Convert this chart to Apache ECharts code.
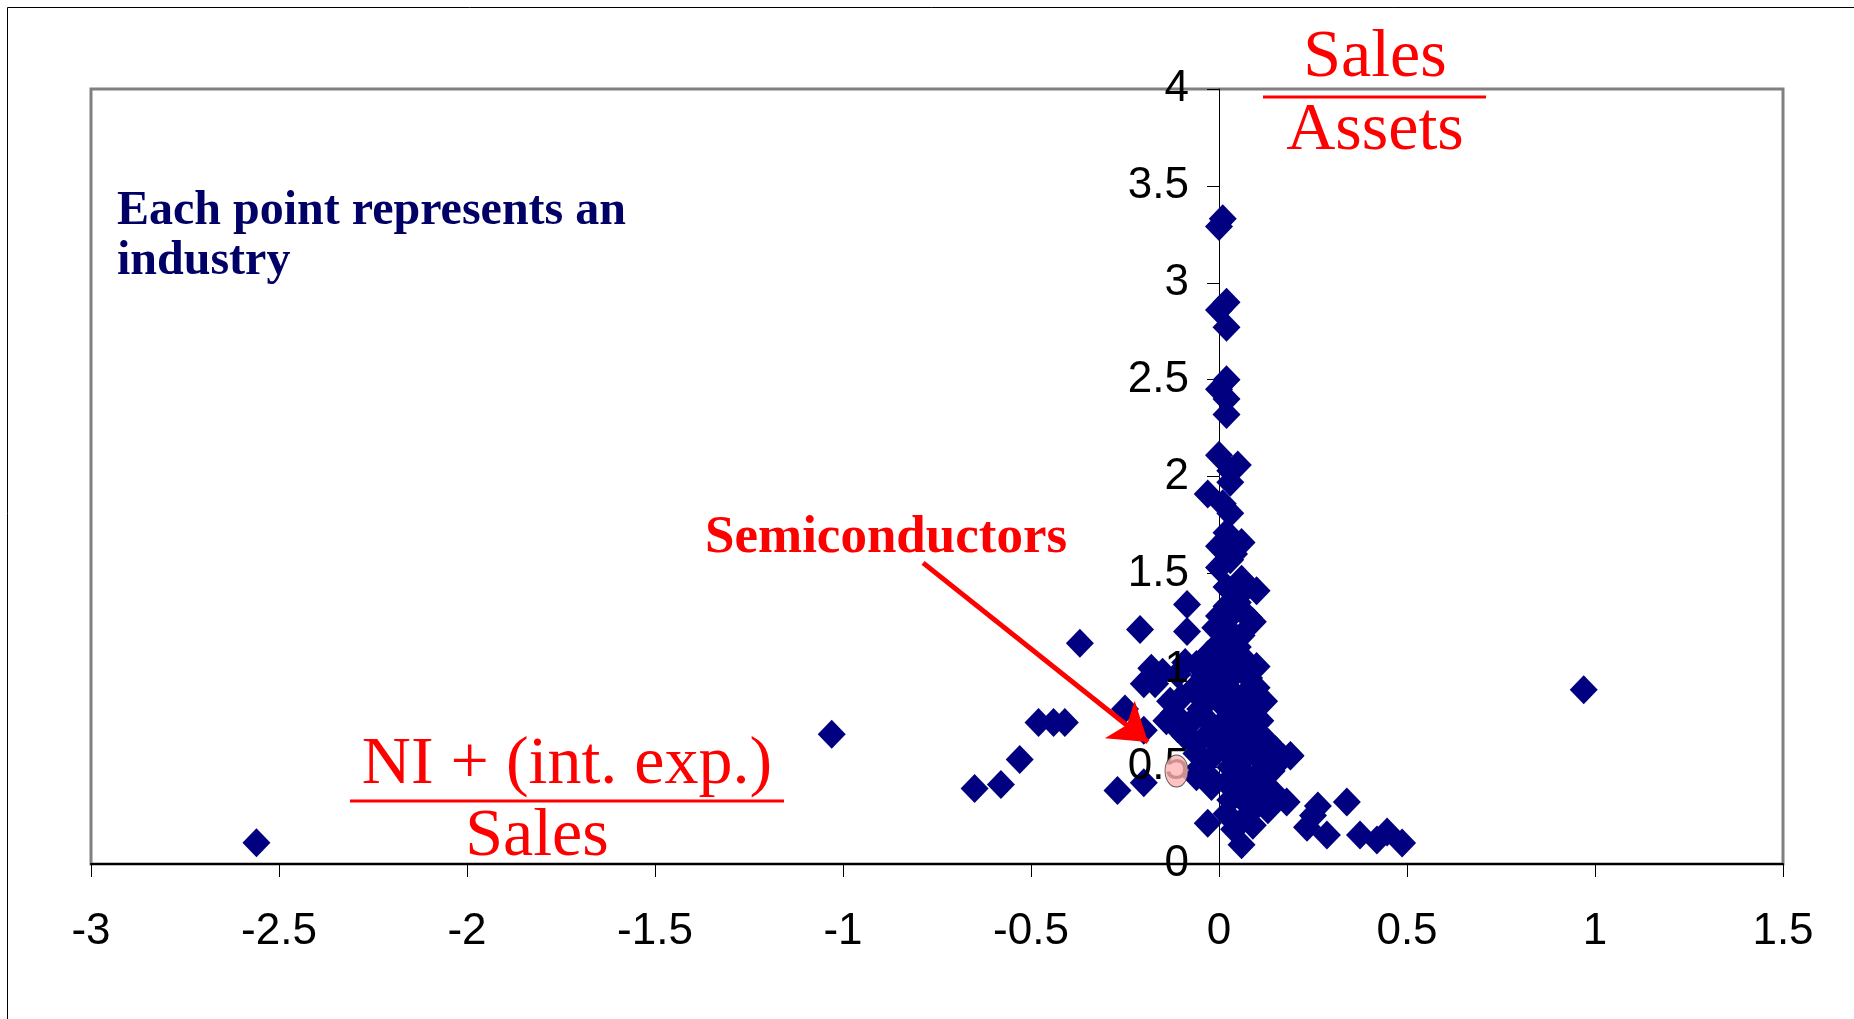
<!DOCTYPE html>
<html>
<head>
<meta charset="utf-8">
<script src="https://cdn.jsdelivr.net/npm/echarts@6/dist/echarts.min.js"></script>
<style>
html,body{margin:0;padding:0;background:#fff;}
#main{width:1854px;height:1019px;}
</style>
</head>
<body>
<div id="main"></div>
<script>
// industries: [ (NI + int. exp.)/Sales , Sales/Assets ]
var upperColumn = [
	[0.01,3.33],[0.00,3.29],[0.02,2.90],[0.00,2.86],[0.02,2.77],[0.02,2.50],[0.00,2.45],[0.02,2.40],
	[0.02,2.32],[0.00,2.11],[0.05,2.06],[0.03,2.03],[-0.03,1.91],[0.03,1.97],[0.01,1.86],[0.03,1.81],
	[0.02,1.71],[0.06,1.66],[0.00,1.64],[0.04,1.60],[0.00,1.53],[0.03,1.57],[0.06,1.47],[0.02,1.43],
	[0.06,1.40],[0.10,1.41],[0.02,1.33],[0.05,1.35],[0.08,1.27],[0.09,1.25]
];
var middleCluster = [
	[0.00,1.28],[0.04,1.30],[-0.01,1.22],[0.03,1.20],[0.06,1.18],[0.00,1.14],[0.05,1.12],[-0.03,1.08],
	[0.02,1.06],[0.07,1.05],[0.10,1.02],[-0.06,1.03],[-0.09,1.04],[0.00,1.00],[0.04,0.98],[0.08,0.96],
	[-0.04,0.97],[-0.11,0.98],[-0.15,0.99],[-0.18,1.01],[-0.20,0.93],[-0.17,0.93]
];
var lowerCluster = [
	[0.00,0.92],[0.03,0.90],[0.07,0.88],[-0.03,0.88],[-0.07,0.90],[0.10,0.91],
	[-0.10,0.86],[-0.13,0.84],[0.05,0.84],[0.01,0.82],[-0.05,0.80],[0.09,0.80],[0.12,0.84],
	[-0.12,0.78],[-0.14,0.74],[0.06,0.77],[0.02,0.75],[-0.02,0.72],[-0.08,0.72],[0.04,0.70],[0.08,0.72],[0.11,0.74],[-0.11,0.70],
	[0.11,0.66],[0.00,0.64],[0.05,0.62],[-0.06,0.62],[-0.09,0.66],[0.09,0.60],[0.13,0.63],[-0.03,0.67],
	[0.13,0.58],[0.02,0.58],[-0.02,0.55],[0.07,0.55],[0.12,0.52],[0.17,0.55],[0.19,0.56],[-0.06,0.57],[0.15,0.59],
	[-0.05,0.50],[-0.03,0.46],[0.03,0.50],[0.06,0.48],[0.10,0.46],[0.14,0.48],[0.08,0.42],[0.12,0.40],[0.02,0.42],[-0.06,0.45],
	[0.05,0.38],[-0.02,0.40],[0.03,0.33],[0.10,0.35],[0.15,0.36],[0.10,0.30],[0.18,0.32],
	[0.08,0.30],[0.13,0.28],[0.02,0.26],[0.06,0.22],[-0.03,0.21],[0.04,0.18],[0.06,0.10],[0.09,0.20],
	[0.07,0.35],[0.11,0.44],[0.04,0.55],[0.08,0.64],[0.05,0.45]
];
var rightTail = [
	[0.19,0.557],[0.263,0.30],[0.25,0.25],[0.34,0.32],[0.234,0.19],[0.287,0.15],[0.375,0.15],
	[0.42,0.124],[0.447,0.165],[0.487,0.108],[0.97,0.90]
];
var leftTail = [
	[-2.56,0.11],[-1.03,0.67],[-0.65,0.39],[-0.58,0.41],[-0.53,0.54],[-0.48,0.73],[-0.44,0.73],[-0.41,0.73],
	[-0.37,1.14],[-0.27,0.38],[-0.20,0.42],[-0.25,0.80],[-0.21,1.21],[-0.085,1.34],[-0.085,1.20],[-0.20,0.69]
];
var semiconductors = [[-0.113,0.48]];
var arrowFrom = [-0.787,1.554];
var arrowTo = [-0.189,0.63];

var industries = upperColumn.concat(middleCluster, lowerCluster, rightTail, leftTail);

var dom = document.getElementById("main");
var myChart = echarts.init(dom);

var serif = "'Liberation Serif','Times New Roman',serif";
var sans = "'Liberation Sans',Arial,sans-serif";

option = {
	animation: false,
	backgroundColor: '#ffffff',
	grid: {
		left: 91,
		top: 89,
		width: 1692,
		height: 775,
		show: true,
		backgroundColor: '#ffffff',
		borderColor: '#808080',
		borderWidth: 3,
		outerBoundsMode: 'none'
	},
	xAxis: {
		type: 'value',
		min: -3,
		max: 1.5,
		interval: 0.5,
		axisLine: { onZero: false, lineStyle: { color: '#000', width: 2 } },
		axisTick: { show: true, inside: false, length: 13, lineStyle: { color: '#000', width: 1 } },
		axisLabel: { fontSize: 44, fontFamily: sans, color: '#000', margin: 46 },
		splitLine: { show: false }
	},
	yAxis: [
		{
			type: 'value',
			position: 'left',
			min: 0,
			max: 4,
			interval: 0.5,
			axisLine: { show: true, onZero: true, lineStyle: { color: '#000', width: 1 } },
			axisTick: { show: true, inside: false, length: 12, lineStyle: { color: '#000', width: 1 } },
			axisLabel: { show: false },
			splitLine: { show: false }
		},
		{
			// labels only, drawn above the points like in the original
			type: 'value',
			position: 'left',
			offset: -1128,
			min: 0,
			max: 4,
			interval: 0.5,
			z: 10,
			axisLine: { show: false, onZero: false },
			axisTick: { show: false },
			axisLabel: { fontSize: 44, fontFamily: sans, color: '#000', margin: 30 },
			splitLine: { show: false }
		}
	],
	series: [
		{
			name: 'industries',
			type: 'scatter',
			symbol: 'diamond',
			symbolSize: [28, 29],
			itemStyle: { color: '#000080', opacity: 1 },
			emphasis: { disabled: true },
			data: industries
		},
		{
			name: 'Semiconductors',
			type: 'scatter',
			z: 20,
			symbol: 'circle',
			symbolSize: [23, 32],
			itemStyle: { color: '#ffb3b3', borderColor: '#303030', borderWidth: 1 },
			emphasis: { disabled: true },
			data: semiconductors,
			markLine: {
				silent: true,
				symbol: ['none', 'arrow'],
				symbolSize: 36,
				label: { show: false },
				lineStyle: { color: '#ff0000', width: 5, type: 'solid' },
				data: [[{ coord: arrowFrom }, { coord: arrowTo }]]
			}
		}
	],
	graphic: [
		{
			type: 'rect',
			silent: true,
			shape: { x: 7.5, y: 7.5, width: 1900, height: 1100 },
			style: { fill: 'none', stroke: '#000', lineWidth: 1 }
		},
		{
			type: 'text', x: 117, y: 212,
			style: { text: 'Each point represents an', fill: '#000066', font: 'bold 48px ' + serif, verticalAlign: 'middle' }
		},
		{
			type: 'text', x: 117, y: 262,
			style: { text: 'industry', fill: '#000066', font: 'bold 48px ' + serif, verticalAlign: 'middle' }
		},
		{
			type: 'text', x: 1375, y: 58,
			style: { text: 'Sales', fill: '#ff0000', font: '68px ' + serif, align: 'center', verticalAlign: 'middle' }
		},
		{
			type: 'line', shape: { x1: 1263, y1: 97, x2: 1486, y2: 97 },
			style: { stroke: '#ff0000', lineWidth: 3 }
		},
		{
			type: 'text', x: 1375, y: 131,
			style: { text: 'Assets', fill: '#ff0000', font: '68px ' + serif, align: 'center', verticalAlign: 'middle' }
		},
		{
			type: 'text', x: 567, y: 765,
			style: { text: 'NI + (int. exp.)', fill: '#ff0000', font: '68px ' + serif, align: 'center', verticalAlign: 'middle' }
		},
		{
			type: 'line', shape: { x1: 350, y1: 801, x2: 784, y2: 801 },
			style: { stroke: '#ff0000', lineWidth: 3 }
		},
		{
			type: 'text', x: 537, y: 837,
			style: { text: 'Sales', fill: '#ff0000', font: '68px ' + serif, align: 'center', verticalAlign: 'middle' }
		},
		{
			type: 'text', x: 705, y: 538,
			style: { text: 'Semiconductors', fill: '#ff0000', font: 'bold 53px ' + serif, verticalAlign: 'middle' }
		}
	]
};

if (option && typeof option === "object") {
	myChart.setOption(option, true);
}
</script>
</body>
</html>
